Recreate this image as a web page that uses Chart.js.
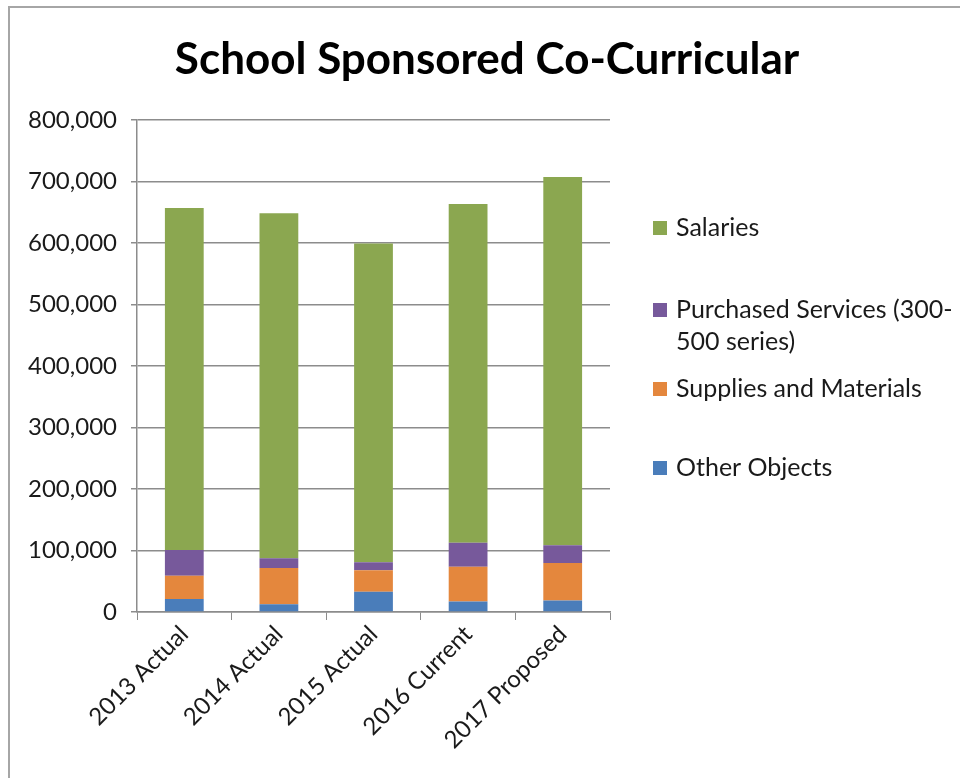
<!DOCTYPE html>
<html>
<head>
<meta charset="utf-8">
<script src="https://cdn.jsdelivr.net/npm/chart.js@4/dist/chart.umd.min.js"></script>
<style>
  html, body { margin: 0; padding: 0; background: #fff; }
  canvas { display: block; }
</style>
</head>
<body>
<canvas id="chart" width="960" height="778"></canvas>
<script>
// datos
const categories = ['2013 Actual', '2014 Actual', '2015 Actual', '2016 Current', '2017 Proposed'];
const otherObjects = [21000, 12500, 33000, 17000, 18500];
const supplies = [38000, 59000, 35000, 56500, 61000];
const purchased = [42000, 16000, 13000, 39000, 29000];
const salaries = [556000, 561000, 518000, 551000, 599000];
const yMax = 800000;
const yStep = 100000;
const chartTitle = 'School Sponsored Co-Curricular';

const FONT = 'Lato';

// marco gris + titulo
const framePlugin = {
    id: 'frame',
    beforeDraw(chart) {
        const ctx = chart.ctx;
        ctx.save();
        ctx.fillStyle = '#fff';
        ctx.fillRect(0, 0, chart.width, chart.height);
        ctx.strokeStyle = '#a6a6a6';
        ctx.lineWidth = 2;
        ctx.beginPath();
        ctx.moveTo(9, chart.height);
        ctx.lineTo(9, 7);
        ctx.lineTo(chart.width, 7);
        ctx.stroke();
        ctx.fillStyle = '#000';
        ctx.font = 'bold 44px ' + FONT;
        ctx.textAlign = 'center';
        ctx.textBaseline = 'middle';
        ctx.fillText(chartTitle, 487, 60);
        ctx.restore();
    }
};

// leyenda a la derecha (orden inverso, como Excel)
const legendYs = [228, 310, 389, 468];
const sideLegend = {
    id: 'sideLegend',
    afterDraw(chart) {
        const ctx = chart.ctx;
        const sets = chart.data.datasets.slice().reverse();
        ctx.save();
        ctx.font = '25px ' + FONT;
        ctx.textBaseline = 'middle';
        sets.forEach((ds, i) => {
            const y = legendYs[i];
            ctx.fillStyle = ds.backgroundColor;
            ctx.fillRect(653, y - 7, 14, 14);
            ctx.fillStyle = '#1a1a1a';
            ds.label.split('\n').forEach((line, j) => {
                ctx.fillText(line, 676, y + j * 32);
            });
        });
        ctx.restore();
    }
};

new Chart(document.getElementById('chart'), {
    type: 'bar',
    data: {
        labels: categories,
        datasets: [
            { label: 'Other Objects', data: otherObjects, backgroundColor: '#4a7dba' },
            { label: 'Supplies and Materials', data: supplies, backgroundColor: '#e4873d' },
            { label: 'Purchased Services (300-\n500 series)', data: purchased, backgroundColor: '#77599b' },
            { label: 'Salaries', data: salaries, backgroundColor: '#8ba750' }
        ]
    },
    options: {
        responsive: false,
        animation: false,
        layout: { padding: { top: 120, right: 350, left: 0, bottom: 0 } },
        datasets: {
            bar: { barPercentage: 0.41, categoryPercentage: 1, borderWidth: 0 }
        },
        plugins: {
            legend: { display: false },
            tooltip: { enabled: false },
            title: { display: false }
        },
        scales: {
            x: {
                stacked: true,
                afterFit(scale) { scale.height = 166; },
                grid: { drawOnChartArea: false, drawTicks: true, tickLength: 8, color: '#8c8c8c', offset: true },
                border: { color: '#8c8c8c', width: 1.5 },
                ticks: {
                    minRotation: 45, maxRotation: 45,
                    color: '#1a1a1a',
                    font: { family: FONT, size: 24 },
                    padding: 0
                }
            },
            y: {
                stacked: true,
                min: 0,
                max: yMax,
                afterFit(scale) { scale.width = 137; },
                grid: { color: '#8c8c8c', lineWidth: 1.5, tickLength: 6 },
                border: { color: '#8c8c8c', width: 1.5 },
                ticks: {
                    stepSize: yStep,
                    padding: 14,
                    color: '#1a1a1a',
                    font: { family: FONT, size: 24 },
                    callback: v => v.toLocaleString('en-US')
                }
            }
        }
    },
    plugins: [framePlugin, sideLegend]
});
</script>
</body>
</html>
